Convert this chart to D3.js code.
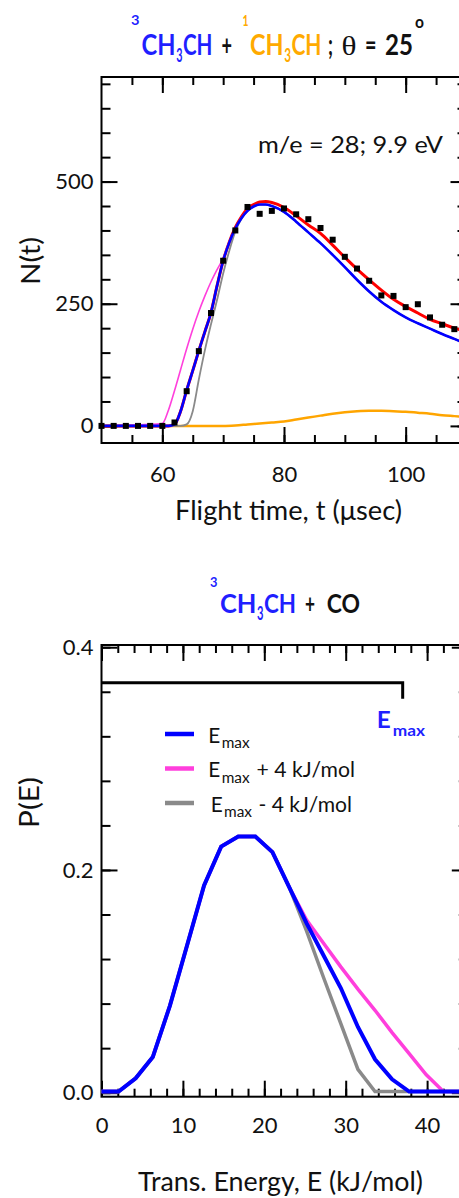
<!DOCTYPE html>
<html>
<head>
<meta charset="utf-8">
<script src="https://cdn.jsdelivr.net/npm/d3@7"></script>
<style>
  body { margin: 0; background: #fff; }
  svg { display: block; }
  text { font-family: Lato, "Open Sans", sans-serif; fill: #111; }
</style>
</head>
<body>
<svg width="459" height="1198"></svg>
<script>
// --- Data: time-of-flight spectrum (m/e = 28) ---
const tofT = [50,52,54,56,58,60,62,64,66,68,70,72,74,76,78,80,82,84,86,88,90,92,94,96,98,100,102,104,106,108];
const tofN = [0,0,0,0,0,0,7,71,153,231,338,400,448,434,440,445,433,423,405,381,346,322,297,267,266,243,249,222,207,198];

const fitT     = [50,60,61,62,63,64,65,66,67,68,69,70,71,72,73,74,75,76,77,78,80,82,84,86,88,90,92,94,96,98,100,102,104,106,108,110];
const fitTotal = [0,0,0,3,30,73,113,154,193,232,287,338,376,406,428,445,453,458,459,457,447,430,411,394,370,345,321,299,278,259,244,231,218,209,200,193];
const fitTriplet = [0,0,0,3,30,73,113,154,193,232,287,338,375,404,425,440,449,453,453,450,438,418,396,374,350,325,299,275,254,237,222,210,199,188,178,168];
const fitPlus4  = [0,5,32,72,115,158,198,234,266,295,320,343,376,405,426,440,449,453,453,450,438,418,396,374,350,325,299,275,254,237,222,210,199,188,178,168];
const fitMinus4 = [0,0,0,0,0,3,30,95,155,208,258,312,358,398,424,440,449,453,453,450,438,418,396,374,350,325,299,275,254,237,222,210,199,188,178,168];

const singletT = [50,70,72,74,76,78,80,82,84,86,88,90,92,94,96,98,100,102,104,106,108,110];
const singletN = [0,0,1,3,5,7,9,13,17,21,25,28,30,31,31,30,29,27,25,22,20,18];

// --- Data: translational energy distribution P(E) ---
const peE = [0,2.1,4.2,6.3,8.4,10.5,12.6,14.7,16.8,18.9,21.0,23.1,25.2,27.3,29.4,31.5,33.6,35.7,37.8,39.9,42.0,45];
const peEmax    = [0.001,0.001,0.013,0.032,0.078,0.132,0.186,0.221,0.230,0.230,0.216,0.184,0.152,0.123,0.094,0.059,0.030,0.012,0.001,0.001,0.001,0.001];
const pePlus4   = [0.001,0.001,0.013,0.032,0.078,0.132,0.186,0.221,0.230,0.230,0.216,0.184,0.155,0.134,0.113,0.093,0.074,0.054,0.035,0.016,0.001,0.001];
const peMinus4  = [0.001,0.001,0.013,0.032,0.078,0.132,0.186,0.221,0.230,0.230,0.216,0.184,0.145,0.103,0.062,0.021,0.001,0.001,0.001,0.001,0.001,0.001];
const emaxE = 37;

const legendLabels = ["+ 4 kJ/mol", "- 4 kJ/mol"];

// --- Colours ---
const BLUE = "#0000ff", RED = "#ff0000", ORANGE = "#ffa500", MAGENTA = "#ff3fdc", GRAY = "#8a8a8a";
const TBLUE = "#1f1fff", TORANGE = "#ffaa00";

const svg = d3.select("svg");

// --- Helper: frame with inward ticks on all four sides ---
function drawFrame(x, y, o) {
  const g = svg.append("g");
  const [x0, x1] = x.range(), [y0, y1] = y.range();   // y0 = bottom
  const styleAxis = a => {
    a.select(".domain").remove();
    a.selectAll("line").attr("stroke", "#000").attr("stroke-width", 2);
    a.selectAll("text").style("font-size", "22px").style("font-family", "Lato, 'Open Sans', sans-serif").style("fill", "#111");
  };
  // minor ticks
  g.append("g").attr("transform", `translate(0,${y0})`)
    .call(d3.axisBottom(x).tickValues(o.xMinor).tickSizeInner(-8).tickSizeOuter(0).tickFormat("")).call(styleAxis);
  g.append("g").attr("transform", `translate(0,${y1})`)
    .call(d3.axisTop(x).tickValues(o.xMinor).tickSizeInner(-8).tickSizeOuter(0).tickFormat("")).call(styleAxis);
  g.append("g").attr("transform", `translate(${x0},0)`)
    .call(d3.axisLeft(y).tickValues(o.yMinor).tickSizeInner(-9).tickSizeOuter(0).tickFormat("")).call(styleAxis);
  g.append("g").attr("transform", `translate(${x1},0)`)
    .call(d3.axisRight(y).tickValues(o.yMinor).tickSizeInner(-9).tickSizeOuter(0).tickFormat("")).call(styleAxis);
  // major ticks + labels
  g.append("g").attr("transform", `translate(0,${y0})`)
    .call(d3.axisBottom(x).tickValues(o.xMajor).tickSizeInner(-16).tickSizeOuter(0).tickPadding(o.xPad).tickFormat(o.xFmt)).call(styleAxis);
  g.append("g").attr("transform", `translate(0,${y1})`)
    .call(d3.axisTop(x).tickValues(o.xMajor).tickSizeInner(-16).tickSizeOuter(0).tickFormat("")).call(styleAxis);
  g.append("g").attr("transform", `translate(${x0},0)`)
    .call(d3.axisLeft(y).tickValues(o.yMajor).tickSizeInner(-16).tickSizeOuter(0).tickPadding(8).tickFormat(o.yFmt)).call(styleAxis);
  g.append("g").attr("transform", `translate(${x1},0)`)
    .call(d3.axisRight(y).tickValues(o.yMajor).tickSizeInner(-16).tickSizeOuter(0).tickFormat("")).call(styleAxis);
  g.append("rect")
    .attr("x", x0).attr("y", y1).attr("width", x1 - x0).attr("height", y0 - y1)
    .attr("fill", "none").attr("stroke", "#000").attr("stroke-width", 2);
}

// --- Helper: separate text pieces, each squeezed to its width (x = left, y = baseline) ---
function pieceText(pieces) {
  pieces.forEach(p => {
    const t = svg.append("text").text(p.t)
      .style("font-size", (p.size || 27) + "px")
      .style("font-weight", p.bold ? 700 : 400)
      .style("fill", p.c || "#111");
    if (p.font) t.style("font-family", p.font);
    const natural = t.node().getComputedTextLength();
    const sx = p.w ? p.w / natural : 1;
    t.attr("transform", `translate(${p.x},${p.y}) scale(${sx},1)`);
  });
}

// --- Helper: centred text squeezed to a width, optionally rotated ---
function plainText(x, y, str, size, len, rotate) {
  const t = svg.append("text").attr("text-anchor", "middle")
    .style("font-size", size + "px").text(str);
  const sx = len / t.node().getComputedTextLength();
  t.attr("transform", `translate(${x},${y})${rotate ? " rotate(-90)" : ""} scale(${sx},1)`);
  return t;
}

// ================= TOP CHART: N(t) =================
const xT = d3.scaleLinear().domain([50, 110]).range([101.5, 466.5]);
const yT = d3.scaleLinear().domain([-35, 714]).range([443, 77]);

pieceText([
  {t: "3",  x: 131,   y: 25,   w: 8.5,  size: 14, c: TBLUE, bold: true},
  {t: "CH", x: 141.5, y: 55,   w: 34,   size: 28, c: TBLUE, bold: true},
  {t: "3",  x: 176.2, y: 61.5, w: 6.3,  size: 19, c: TBLUE, bold: true},
  {t: "CH", x: 183,   y: 55,   w: 29.5, size: 28, c: TBLUE, bold: true},
  {t: "+",  x: 221.5, y: 55,   w: 10.5, size: 28, bold: true},
  {t: "1",  x: 242.5, y: 26,   w: 6,    size: 15, c: TORANGE, bold: true},
  {t: "CH", x: 250,   y: 55,   w: 33.5, size: 28, c: TORANGE, bold: true},
  {t: "3",  x: 284.2, y: 61.5, w: 6.8,  size: 19, c: TORANGE, bold: true},
  {t: "CH", x: 291.5, y: 55,   w: 30,   size: 28, c: TORANGE, bold: true},
  {t: ";",  x: 328,   y: 55,   w: 5,    size: 28, bold: true},
  {t: "θ",  x: 341.5, y: 55,   w: 15,   size: 28, font: "'Liberation Serif', serif"},
  {t: "=",  x: 365,   y: 55,   w: 11.5, size: 28, bold: true},
  {t: "25", x: 385,   y: 55,   w: 28,   size: 28, bold: true},
  {t: "o",  x: 415,   y: 28,   w: 9,    size: 17, bold: true}
]);

drawFrame(xT, yT, {
  xMinor: d3.range(55, 111, 5), xMajor: [60, 80, 100], xPad: 23, xFmt: d3.format("d"),
  yMinor: d3.range(0, 714, 50), yMajor: [0, 250, 500], yFmt: d3.format("d")
});

const lineT = arrT => d3.line().x((d, i) => xT(arrT[i])).y(d => yT(d)).curve(d3.curveMonotoneX);
const tof = svg.append("g");
tof.append("path").attr("d", lineT(singletT)(singletN)).attr("fill", "none").attr("stroke", ORANGE).attr("stroke-width", 2.5);
tof.append("path").attr("d", lineT(fitT)(fitTotal)).attr("fill", "none").attr("stroke", RED).attr("stroke-width", 3);
tof.append("path").attr("d", lineT(fitT)(fitPlus4)).attr("fill", "none").attr("stroke", MAGENTA).attr("stroke-width", 1.6);
tof.append("path").attr("d", lineT(fitT)(fitMinus4)).attr("fill", "none").attr("stroke", GRAY).attr("stroke-width", 1.8);
tof.append("path").attr("d", lineT(fitT)(fitTriplet)).attr("fill", "none").attr("stroke", BLUE).attr("stroke-width", 2.6);
tof.selectAll("rect.pt").data(tofN).enter().append("rect")
  .attr("class", "pt")
  .attr("x", (d, i) => xT(tofT[i]) - 3).attr("y", d => yT(d) - 3)
  .attr("width", 6).attr("height", 6).attr("fill", "#000");

plainText(350.5, 153, "m/e = 28; 9.9 eV", 24, 185);
plainText(40, 261, "N(t)", 27, 48, true);
plainText(288.5, 520, "Flight time, t (μsec)", 27, 227);

// ================= BOTTOM CHART: P(E) =================
const xE = d3.scaleLinear().domain([0, 45]).range([101.5, 467.8]);
const yE = d3.scaleLinear().domain([-0.0036, 0.402]).range([1096.7, 645]);

pieceText([
  {t: "3",  x: 210,   y: 587, w: 7.5,  size: 14, c: TBLUE, bold: true},
  {t: "CH", x: 220,   y: 613, w: 36.5, size: 26, c: TBLUE, bold: true},
  {t: "3",  x: 257,   y: 620, w: 6.5,  size: 18, c: TBLUE, bold: true},
  {t: "CH", x: 264,   y: 613, w: 32,   size: 26, c: TBLUE, bold: true},
  {t: "+",  x: 305,   y: 613, w: 10,   size: 26, bold: true},
  {t: "CO", x: 326.7, y: 613, w: 33.3, size: 26, bold: true}
]);

drawFrame(xE, yE, {
  xMinor: d3.range(0, 46, 2), xMajor: [0, 10, 20, 30, 40], xPad: 21, xFmt: d3.format("d"),
  yMinor: d3.range(0, 0.401, 0.04), yMajor: [0, 0.2, 0.4], yFmt: d3.format(".1f")
});

// Emax bracket
const bracketLevel = 0.368;
svg.append("path")
  .attr("d", `M${xE(0)},${yE(bracketLevel)}H${xE(emaxE)}V${yE(bracketLevel) + 16}`)
  .attr("fill", "none").attr("stroke", "#000").attr("stroke-width", 3);
pieceText([
  {t: "E",   x: 376.7, y: 728, w: 14,   size: 23, c: TBLUE, bold: true},
  {t: "max", x: 392.7, y: 736, w: 32.3, size: 16, c: TBLUE, bold: true}
]);

const lineE = d3.line().x((d, i) => xE(peE[i])).y(d => yE(d));
const pe = svg.append("g");
pe.append("path").attr("d", lineE(pePlus4)).attr("fill", "none").attr("stroke", MAGENTA).attr("stroke-width", 3.5);
pe.append("path").attr("d", lineE(peMinus4)).attr("fill", "none").attr("stroke", GRAY).attr("stroke-width", 3.5);
pe.append("path").attr("d", lineE(peEmax)).attr("fill", "none").attr("stroke", BLUE).attr("stroke-width", 4);

// legend
const legend = [
  {c: BLUE,    suffix: null,            x: 208.3, sx: 221.7, tx: 0,     tw: 0},
  {c: MAGENTA, suffix: legendLabels[0], x: 208.3, sx: 221.7, tx: 256.5, tw: 98.5},
  {c: GRAY,    suffix: legendLabels[1], x: 210.7, sx: 224,   tx: 258.5, tw: 93.5}
];
legend.forEach((d, i) => {
  const ly = 734 + i * 34.5;
  svg.append("line").attr("x1", 165).attr("x2", 194).attr("y1", ly).attr("y2", ly)
    .attr("stroke", d.c).attr("stroke-width", 4.5);
  const pieces = [
    {t: "E",   x: d.x,  y: ly + 8.5, w: 12, size: 22},
    {t: "max", x: d.sx, y: ly + 14,  w: 28, size: 15}
  ];
  if (d.suffix) pieces.push({t: d.suffix, x: d.tx, y: ly + 8.5, w: d.tw, size: 22});
  pieceText(pieces);
});

plainText(39, 802.5, "P(E)", 27, 51, true);
plainText(280.5, 1191, "Trans. Energy, E (kJ/mol)", 27, 285);
</script>
</body>
</html>
